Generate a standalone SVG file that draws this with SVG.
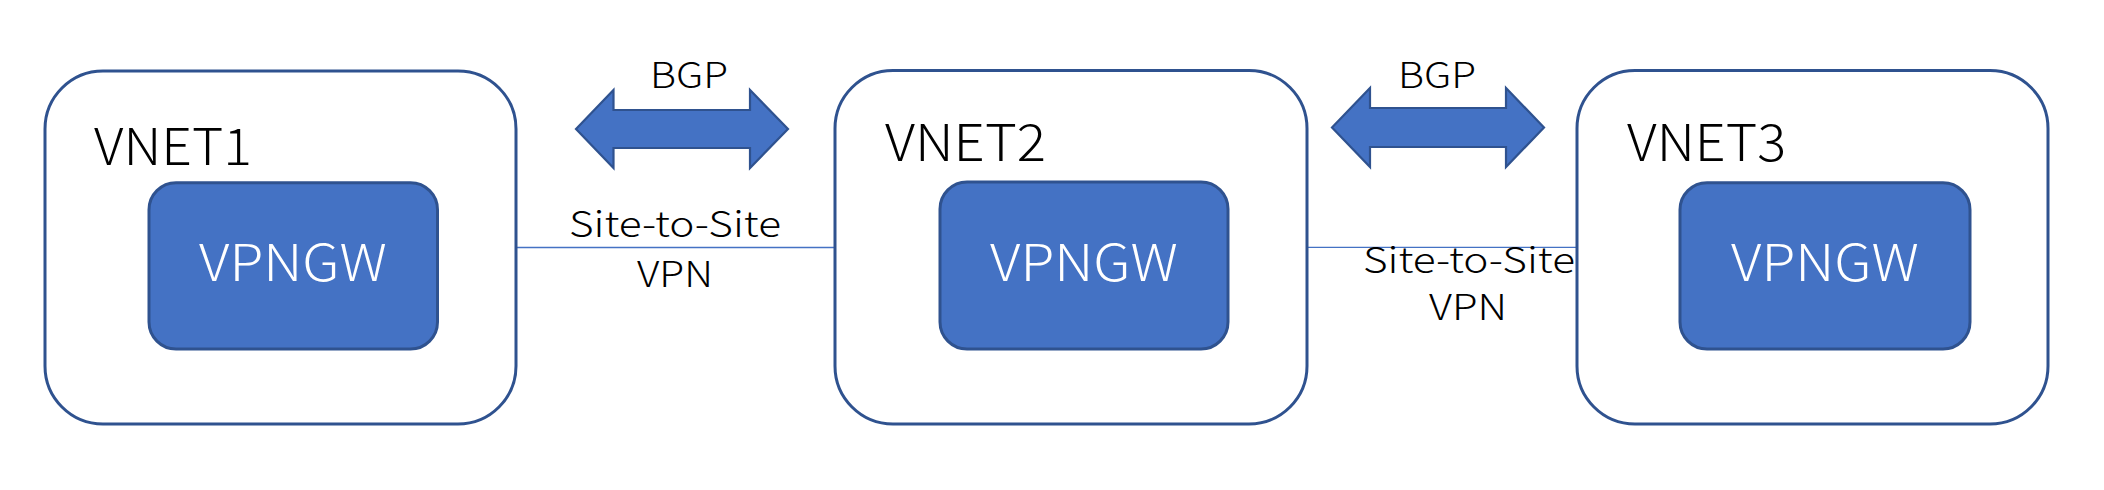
<svg xmlns="http://www.w3.org/2000/svg" width="2104" height="490" viewBox="0 0 2104 490">
  <style>
    .vnet { fill: #ffffff; stroke: #2F528F; stroke-width: 3; }
    .gw { fill: #4472C4; stroke: #2F528F; stroke-width: 3; }
    .arrow { fill: #4472C4; stroke: #2F528F; stroke-width: 2.2; stroke-linejoin: miter; }
    .link { stroke: #4472C4; stroke-width: 1.3; fill: none; }
    .t { font-family: "Noto Sans CJK JP", "Liberation Sans", sans-serif; font-weight: 300; }
    .vn { font-size: 51px; fill: #000000; }
    .gwt { font-size: 51px; fill: #ffffff; text-anchor: middle; }
    .lbl { font-size: 36px; fill: #000000; text-anchor: middle; }
  </style>
  <rect width="2104" height="490" fill="#ffffff"/>
  <g id="connectors">
    <line class="link" x1="516" y1="247.5" x2="835" y2="247.5"/>
    <line class="link" x1="1307" y1="247.3" x2="1577" y2="247.3"/>
    <polygon id="bgp-arrow-1" class="arrow" points="576,129 613.5,90 613.5,110 750,110 750,90 788,129 750,168 750,148 613.5,148 613.5,168"/>
    <polygon id="bgp-arrow-2" class="arrow" points="1332,127.5 1370,88 1370,108 1506,108 1506,88 1544,127.5 1506,167 1506,147 1370,147 1370,167"/>
    <text class="t lbl" x="689" y="88" textLength="78" lengthAdjust="spacingAndGlyphs">BGP</text>
    <text class="t lbl" x="1437" y="88" textLength="78" lengthAdjust="spacingAndGlyphs">BGP</text>
    <text class="t lbl" x="675" y="237" textLength="212" lengthAdjust="spacingAndGlyphs">Site-to-Site</text>
    <text class="t lbl" x="675" y="287" textLength="76" lengthAdjust="spacingAndGlyphs">VPN</text>
    <text class="t lbl" x="1469" y="272.5" textLength="212" lengthAdjust="spacingAndGlyphs">Site-to-Site</text>
    <text class="t lbl" x="1468" y="320" textLength="78" lengthAdjust="spacingAndGlyphs">VPN</text>
  </g>
  <g id="vnet1">
    <rect class="vnet" x="45" y="71" width="471" height="353" rx="58" ry="58"/>
    <text class="t vn" x="94" y="165" textLength="158" lengthAdjust="spacingAndGlyphs">VNET1</text>
  </g>
  <g id="vpngw1">
    <rect class="gw" x="149" y="182.7" width="288.5" height="166.3" rx="27" ry="27"/>
    <text class="t gwt" x="293" y="281" textLength="188" lengthAdjust="spacingAndGlyphs">VPNGW</text>
  </g>
  <g id="vnet2">
    <rect class="vnet" x="835" y="70.5" width="472" height="353.5" rx="58" ry="58"/>
    <text class="t vn" x="885" y="161" textLength="161" lengthAdjust="spacingAndGlyphs">VNET2</text>
  </g>
  <g id="vpngw2">
    <rect class="gw" x="940" y="182" width="288" height="167" rx="27" ry="27"/>
    <text class="t gwt" x="1084" y="281" textLength="188" lengthAdjust="spacingAndGlyphs">VPNGW</text>
  </g>
  <g id="vnet3">
    <rect class="vnet" x="1577" y="70.5" width="471" height="353.5" rx="58" ry="58"/>
    <text class="t vn" x="1627" y="161" textLength="159" lengthAdjust="spacingAndGlyphs">VNET3</text>
  </g>
  <g id="vpngw3">
    <rect class="gw" x="1680" y="182.7" width="290" height="166.3" rx="27" ry="27"/>
    <text class="t gwt" x="1825" y="281" textLength="188" lengthAdjust="spacingAndGlyphs">VPNGW</text>
  </g>
</svg>
